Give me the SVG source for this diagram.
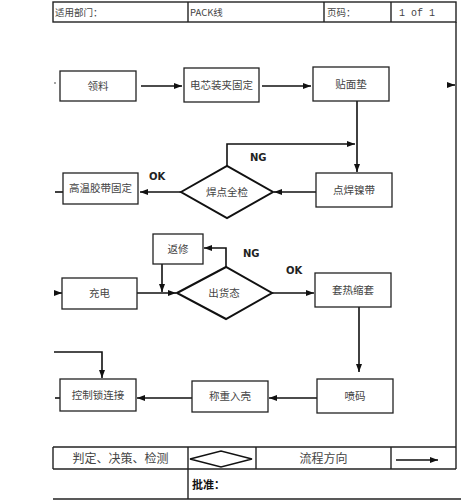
<svg xmlns="http://www.w3.org/2000/svg" width="461" height="500" viewBox="0 0 461 500">
<defs>
<marker id="ah" markerUnits="userSpaceOnUse" markerWidth="8" markerHeight="6" refX="8" refY="3" orient="auto"><path d="M0,0 L8,3 L0,6 z" fill="#111"/></marker>
</defs>
<style>
.bx{fill:#fff;stroke:#222;stroke-width:1.3}
.dm{fill:#fff;stroke:#111;stroke-width:2}
.ln{fill:none;stroke:#111;stroke-width:1.6}
.ar{fill:none;stroke:#111;stroke-width:1.6;marker-end:url(#ah)}
.tb{fill:none;stroke:#222;stroke-width:1.4}
.t{font-family:"Noto Sans CJK SC",sans-serif;font-size:10.5px;fill:#444;text-anchor:middle}
.th{font-family:"Noto Sans CJK SC",sans-serif;font-size:9.5px;fill:#444}
.tl{font-family:"Noto Sans CJK SC",sans-serif;font-size:12px;fill:#444;text-anchor:middle}
.lab{font-family:"DejaVu Sans",sans-serif;font-size:10px;font-weight:bold;fill:#222}
</style>
<rect width="461" height="500" fill="#fff"/>
<g id="header">
<rect class="tb" x="53" y="2" width="403" height="20"/>
<line class="tb" x1="188" y1="2" x2="188" y2="22"/>
<line class="tb" x1="324" y1="2" x2="324" y2="22"/>
<line class="tb" x1="391" y1="2" x2="391" y2="22"/>
<text class="th" x="55" y="16">适用部门：</text>
<text class="th" x="190" y="16">PACK线</text>
<text class="th" x="327" y="16">页码：</text>
<text x="399" y="16" font-family="Liberation Mono,monospace" font-size="10" fill="#444">1 of 1</text>
<line class="tb" x1="456" y1="22" x2="456" y2="447"/>
</g>
<g id="connectors">
<path class="ar" d="M141,86 H182"/>
<path class="ar" d="M262,86 H311"/>
<path class="ar" d="M357,101 V172"/>
<path class="ar" d="M227,166 V144 H355"/>
<path class="ar" d="M316,192 H274"/>
<path class="ar" d="M181,192 H140"/>
<path class="ln" d="M55,192 H63"/>
<path class="ar" d="M226,267 V248 H204"/>
<path class="ar" d="M162,264 V292"/>
<path class="ar" d="M137,293 H176"/>
<path class="ar" d="M54,293 H62"/>
<path class="ar" d="M272,293 H314"/>
<path class="ar" d="M359,307 V372"/>
<path class="ar" d="M317,398 H269"/>
<path class="ar" d="M192,398 H137"/>
<path class="ar" d="M54,352 H102 V378"/>
<path class="ln" d="M55,398 H60"/>
<path class="ar" d="M448,85 H455"/>
<circle cx="55" cy="83" r="0.8" fill="#333"/>
<text class="lab" x="250" y="161">NG</text>
<text class="lab" x="149" y="180">OK</text>
<text class="lab" x="243" y="257">NG</text>
<text class="lab" x="286" y="274">OK</text>
</g>
<g id="n1"><rect class="bx" x="60" y="71" width="76" height="30"/><text class="t" x="98" y="90">领料</text></g>
<g id="n2"><rect class="bx" x="184" y="68" width="75" height="34"/><text class="t" x="221.5" y="89">电芯装夹固定</text></g>
<g id="n3"><rect class="bx" x="313" y="67" width="76" height="34"/><text class="t" x="351" y="88">贴面垫</text></g>
<g id="n4"><rect class="bx" x="316" y="173" width="76" height="34"/><text class="t" x="354" y="194">点焊镍带</text></g>
<g id="n5"><polygon class="dm" points="181,192 227,166 273,192 227,218"/><text class="t" x="227" y="196">焊点全检</text></g>
<g id="n6"><rect class="bx" x="63" y="173" width="75" height="31"/><text class="t" x="100.5" y="192">高温胶带固定</text></g>
<g id="n7"><rect class="bx" x="153" y="234" width="50" height="30"/><text class="t" x="178" y="253">返修</text></g>
<g id="n8"><rect class="bx" x="62" y="278" width="75" height="31"/><text class="t" x="99.5" y="297">充电</text></g>
<g id="n9"><polygon class="dm" points="177,293 226,267 272,293 226,319"/><text class="t" x="224" y="297">出货态</text></g>
<g id="n10"><rect class="bx" x="315" y="273" width="76" height="34"/><text class="t" x="353" y="294">套热缩套</text></g>
<g id="n11"><rect class="bx" x="317" y="379" width="76" height="34"/><text class="t" x="355" y="400">喷码</text></g>
<g id="n12"><rect class="bx" x="192" y="381" width="76" height="31"/><text class="t" x="230" y="400">称重入壳</text></g>
<g id="n13"><rect class="bx" x="60" y="379" width="76" height="32"/><text class="t" x="98" y="399">控制锁连接</text></g>
<g id="legend">
<line class="tb" x1="53" y1="447" x2="456" y2="447"/>
<line class="tb" x1="53" y1="469" x2="456" y2="469"/>
<line class="tb" x1="53" y1="499" x2="461" y2="499"/>
<line class="tb" x1="53" y1="447" x2="53" y2="469"/>
<line class="tb" x1="188" y1="447" x2="188" y2="499"/>
<line class="tb" x1="256" y1="447" x2="256" y2="469"/>
<line class="tb" x1="391" y1="447" x2="391" y2="469"/>
<line class="tb" x1="456" y1="447" x2="456" y2="469"/>
<text class="tl" x="120.5" y="463">判定、决策、检测</text>
<polygon points="190,459 221,451 252,459 221,467" fill="#fff" stroke="#111" stroke-width="1.3"/>
<text class="tl" x="323.5" y="463">流程方向</text>
<path class="ar" d="M396,460 H438"/>
<text x="192" y="489" font-family="Noto Sans CJK SC,sans-serif" font-size="11" font-weight="bold" fill="#111">批准：</text>
</g>
</svg>
